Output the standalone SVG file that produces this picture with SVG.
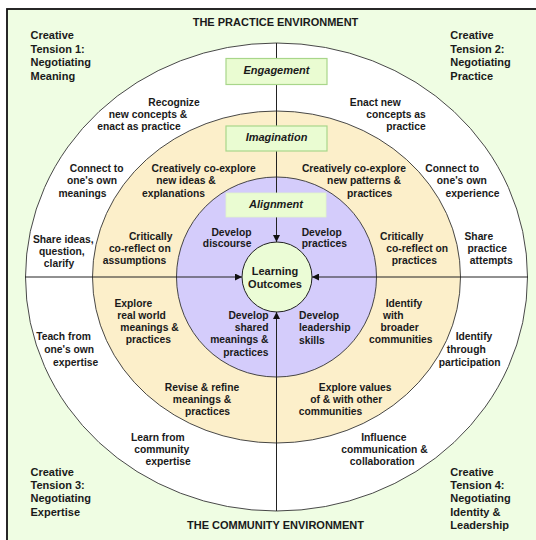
<svg xmlns="http://www.w3.org/2000/svg" width="536" height="540" viewBox="0 0 536 540">
<style>
text{font-family:"Liberation Sans",Arial,sans-serif;font-weight:bold;fill:#1a1a1a}
.t{font-size:10.3px;text-anchor:middle}
.te{font-size:10.3px;text-anchor:end}
.ts{font-size:10.3px;text-anchor:start}
.c{font-size:11px}
.h{font-size:11px;text-anchor:middle}
.box{fill:#eafcd2;stroke:#a8d68a;stroke-width:1.2}
.bl{font-size:11px;font-style:italic;text-anchor:middle}
.ring{stroke:#333;stroke-width:0.9}
.ax{stroke:#222;stroke-width:1;fill:none;marker-end:url(#ah)}
</style>
<defs>
<marker id="ah" viewBox="0 0 10 10" refX="10" refY="5" markerWidth="7" markerHeight="7" markerUnits="userSpaceOnUse" orient="auto">
<path d="M0,0 L10,5 L0,10 z" fill="#111"/>
</marker>
</defs>
<rect x="0" y="0" width="536" height="540" fill="#ffffff"/>
<rect x="7" y="9" width="545" height="545" fill="#effde3" stroke="#111" stroke-width="1.8"/>

<g id="rings">
<ellipse id="practice-ring" class="ring" cx="276.5" cy="277" rx="251" ry="234" fill="#ffffff"/>
<ellipse id="imagination-ring" class="ring" cx="276.5" cy="277" rx="184" ry="166" fill="#fcefca"/>
<circle id="alignment-ring" class="ring" cx="276.5" cy="277" r="100" fill="#d4ccfb"/>
</g>

<g id="connectors">
<line class="ax" x1="25" y1="277" x2="242" y2="277"/>
<line class="ax" x1="528" y1="277" x2="312" y2="277"/>
<line class="ax" x1="276.5" y1="43" x2="276.5" y2="242"/>
<line class="ax" x1="276.5" y1="511" x2="276.5" y2="312"/>
</g>

<g id="learning-outcomes">
<circle cx="277" cy="277" r="35" fill="#ebfcd6" stroke="#222" stroke-width="1"/>
<text class="h" x="275" y="274.5">Learning</text>
<text class="h" x="275" y="288">Outcomes</text>
</g>

<g id="engagement">
<rect class="box" x="226" y="58.5" width="101" height="26"/>
<text class="bl" x="276.5" y="73.5">Engagement</text>
</g>
<g id="imagination">
<rect class="box" x="226" y="126" width="101" height="25"/>
<text class="bl" x="276.5" y="140.8">Imagination</text>
</g>
<g id="alignment">
<rect x="226" y="193" width="100" height="24" fill="#eafcd2" stroke="#e0f5c8" stroke-width="0.8"/>
<text class="bl" x="276" y="208.2">Alignment</text>
</g>

<g id="titles">
<text class="h" x="275.5" y="26">THE PRACTICE ENVIRONMENT</text>
<text class="h" x="275.5" y="528.5">THE COMMUNITY ENVIRONMENT</text>
</g>

<g id="tension-1">
<text class="c" x="30.5" y="39">Creative</text>
<text class="c" x="30.5" y="52.5">Tension 1:</text>
<text class="c" x="30.5" y="66">Negotiating</text>
<text class="c" x="30.5" y="79.5">Meaning</text>
</g>
<g id="tension-2">
<text class="c" x="450.3" y="39">Creative</text>
<text class="c" x="450.3" y="52.5">Tension 2:</text>
<text class="c" x="450.3" y="66">Negotiating</text>
<text class="c" x="450.3" y="79.5">Practice</text>
</g>
<g id="tension-3">
<text class="c" x="30.5" y="475.5">Creative</text>
<text class="c" x="30.5" y="489">Tension 3:</text>
<text class="c" x="30.5" y="502">Negotiating</text>
<text class="c" x="30.5" y="515.5">Expertise</text>
</g>
<g id="tension-4">
<text class="c" x="450.3" y="475.5">Creative</text>
<text class="c" x="450.3" y="489">Tension 4:</text>
<text class="c" x="450.3" y="502">Negotiating</text>
<text class="c" x="450.3" y="515.5">Identity &amp;</text>
<text class="c" x="450.3" y="529">Leadership</text>
</g>

<g id="outer-labels">
<text class="t" x="174" y="105.5">Recognize</text>
<text class="t" x="148" y="117.5">new concepts &amp;</text>
<text class="t" x="139" y="130">enact as practice</text>

<text class="t" x="375.3" y="105.5">Enact new</text>
<text class="te" x="425.7" y="117.5">concepts as</text>
<text class="te" x="425.7" y="130">practice</text>

<text class="t" x="96.7" y="172">Connect to</text>
<text class="t" x="92" y="184.3">one's own</text>
<text class="t" x="82.5" y="197">meanings</text>

<text class="t" x="452.2" y="172">Connect to</text>
<text class="t" x="461.8" y="184.3">one's own</text>
<text class="t" x="472.5" y="197">experience</text>

<text class="t" x="63.3" y="243">Share ideas,</text>
<text class="t" x="61.8" y="255">question,</text>
<text class="t" x="59" y="267">clarify</text>

<text class="t" x="478.8" y="239.5">Share</text>
<text class="t" x="487.2" y="251.8">practice</text>
<text class="t" x="491.3" y="264">attempts</text>

<text class="t" x="63.5" y="339.5">Teach from</text>
<text class="t" x="69.2" y="353">one's own</text>
<text class="t" x="75.7" y="365.5">expertise</text>

<text class="t" x="474" y="339.5">Identify</text>
<text class="t" x="466.3" y="353">through</text>
<text class="t" x="469.7" y="365.5">participation</text>

<text class="t" x="157.8" y="440.8">Learn from</text>
<text class="t" x="161.7" y="452.8">community</text>
<text class="t" x="168.2" y="464.8">expertise</text>

<text class="t" x="383.8" y="440.8">Influence</text>
<text class="t" x="384.5" y="452.8">communication &amp;</text>
<text class="t" x="382.2" y="464.8">collaboration</text>
</g>

<g id="imagination-labels">
<text class="t" x="203.7" y="172">Creatively co-explore</text>
<text class="t" x="186" y="184.3">new ideas &amp;</text>
<text class="t" x="173.5" y="197">explanations</text>

<text class="t" x="354" y="172">Creatively co-explore</text>
<text class="t" x="364" y="184.3">new patterns &amp;</text>
<text class="t" x="369.7" y="197">practices</text>

<text class="t" x="150.7" y="239.5">Critically</text>
<text class="t" x="139.8" y="251.8">co-reflect on</text>
<text class="t" x="134.5" y="264">assumptions</text>

<text class="t" x="401.8" y="239.5">Critically</text>
<text class="t" x="417.2" y="251.8">co-reflect on</text>
<text class="t" x="414.3" y="264">practices</text>

<text class="t" x="133.3" y="306.7">Explore</text>
<text class="t" x="141.5" y="318.8">real world</text>
<text class="t" x="149.5" y="330.8">meanings &amp;</text>
<text class="t" x="148.3" y="343">practices</text>

<text class="t" x="404" y="306.5">Identify</text>
<text class="t" x="393.3" y="318.8">with</text>
<text class="t" x="399.7" y="331">broader</text>
<text class="t" x="400.8" y="343">communities</text>

<text class="t" x="202" y="390.5">Revise &amp; refine</text>
<text class="t" x="202" y="402.8">meanings &amp;</text>
<text class="t" x="207.5" y="415.3">practices</text>

<text class="t" x="355.2" y="390.5">Explore values</text>
<text class="t" x="346.2" y="402.8">of &amp; with other</text>
<text class="t" x="330.5" y="415.3">communities</text>
</g>

<g id="alignment-labels">
<text class="te" x="251.5" y="235.5">Develop</text>
<text class="te" x="251.5" y="247">discourse</text>

<text class="ts" x="301.7" y="235.5">Develop</text>
<text class="ts" x="301.7" y="247">practices</text>

<text class="te" x="268.5" y="318.7">Develop</text>
<text class="te" x="268.5" y="331">shared</text>
<text class="te" x="268.5" y="343">meanings &amp;</text>
<text class="te" x="268.5" y="355.7">practices</text>

<text class="ts" x="299" y="318.7">Develop</text>
<text class="ts" x="299" y="331">leadership</text>
<text class="ts" x="299" y="343.5">skills</text>
</g>
</svg>
